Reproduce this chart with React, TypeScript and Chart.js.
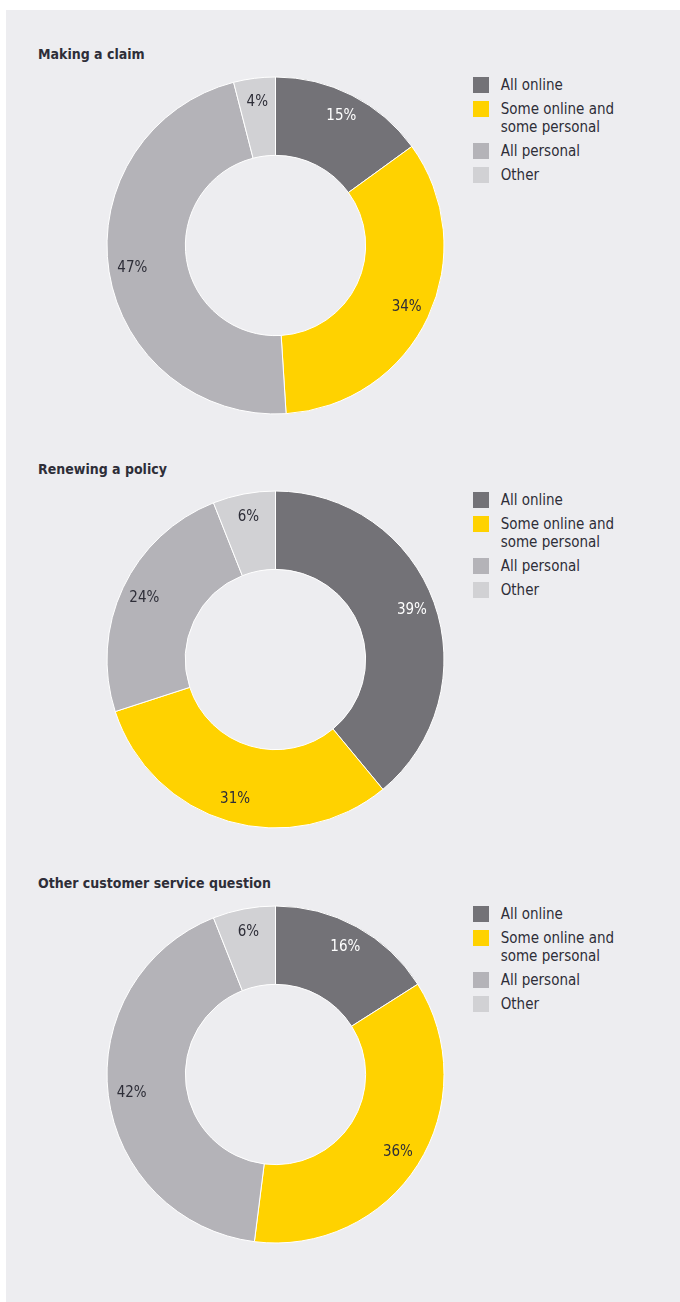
import React, { useEffect, useRef } from "react";
import { Chart, registerables } from "chart.js";

Chart.register(...registerables);

const categories = ["All online", "Some online and some personal", "All personal", "Other"];
const chartTitles = ["Making a claim", "Renewing a policy", "Other customer service question"];
const claimValues = [15, 34, 47, 4];
const renewValues = [39, 31, 24, 6];
const serviceValues = [16, 36, 42, 6];
const seriesList = [claimValues, renewValues, serviceValues];

const sliceColors = ["#737277", "#FFD200", "#B4B3B8", "#D1D1D4"];
const labelColors = ["#FFFFFF", "#2E2E38", "#2E2E38", "#2E2E38"];
const BG = "#EDEDF0";
const TEXT = "#2E2E38";
const FONT = "'DejaVu Sans Condensed', 'DejaVu Sans', sans-serif";

const labelPlugin = {
  id: "sliceLabels",
  afterDatasetsDraw(chart: any) {
    const ctx = chart.ctx;
    const meta = chart.getDatasetMeta(0);
    const data = chart.data.datasets[0].data;
    ctx.save();
    ctx.font = `15px ${FONT}`;
    ctx.textAlign = "center";
    ctx.textBaseline = "middle";
    meta.data.forEach((arc: any, i: number) => {
      const p = arc.getProps(["x", "y", "startAngle", "endAngle", "innerRadius", "outerRadius"], true);
      const a = (p.startAngle + p.endAngle) / 2;
      const r = p.innerRadius + 0.7 * (p.outerRadius - p.innerRadius);
      ctx.fillStyle = labelColors[i];
      ctx.fillText(`${data[i]}%`, p.x + r * Math.cos(a), p.y + r * Math.sin(a));
    });
    ctx.restore();
  },
};

function Donut({ values }: { values: number[] }) {
  const ref = useRef<HTMLCanvasElement>(null);
  useEffect(() => {
    if (!ref.current) return;
    const chart = new Chart(ref.current, {
      type: "doughnut",
      data: {
        labels: categories,
        datasets: [
          {
            data: values,
            backgroundColor: sliceColors,
            borderColor: "#FFFFFF",
            borderWidth: 1,
            hoverOffset: 0,
          },
        ],
      },
      options: {
        responsive: false,
        maintainAspectRatio: false,
        animation: false,
        radius: 168.5,
        cutout: 92,
        layout: { padding: 0 },
        plugins: { legend: { display: false }, tooltip: { enabled: false } },
      },
      plugins: [labelPlugin],
    });
    return () => chart.destroy();
  }, [values]);
  return (
    <canvas
      ref={ref}
      width={345}
      height={345}
      style={{ position: "absolute", left: 97, top: 62.5, width: 345, height: 345 }}
    />
  );
}

function Legend() {
  return (
    <div style={{ position: "absolute", left: 466.7, top: 66, width: 190 }}>
      {categories.map((c, i) => (
        <div key={c} style={{ display: "flex", alignItems: "flex-start", marginBottom: 6 }}>
          <div style={{ width: 16, height: 16, background: sliceColors[i], flex: "0 0 16px", marginTop: 1 }} />
          <div
            style={{
              marginLeft: 12,
              width: 130,
              font: `15px ${FONT}`,
              lineHeight: "18px",
              color: TEXT,
            }}
          >
            {c}
          </div>
        </div>
      ))}
    </div>
  );
}

export default function App() {
  return (
    <div
      style={{
        position: "absolute",
        left: 6,
        top: 10,
        width: 674,
        height: 1292,
        background: BG,
        overflow: "hidden",
      }}
    >
      {seriesList.map((vals, i) => (
        <div key={i} style={{ position: "absolute", left: 0, top: i * 414.5, width: 674, height: 414.5 }}>
          <div
            style={{
              position: "absolute",
              left: 32,
              top: 35,
              font: `bold 14px ${FONT}`,
              lineHeight: "18px",
              color: TEXT,
              whiteSpace: "nowrap",
            }}
          >
            {chartTitles[i]}
          </div>
          <Donut values={vals} />
          <Legend />
        </div>
      ))}
    </div>
  );
}
